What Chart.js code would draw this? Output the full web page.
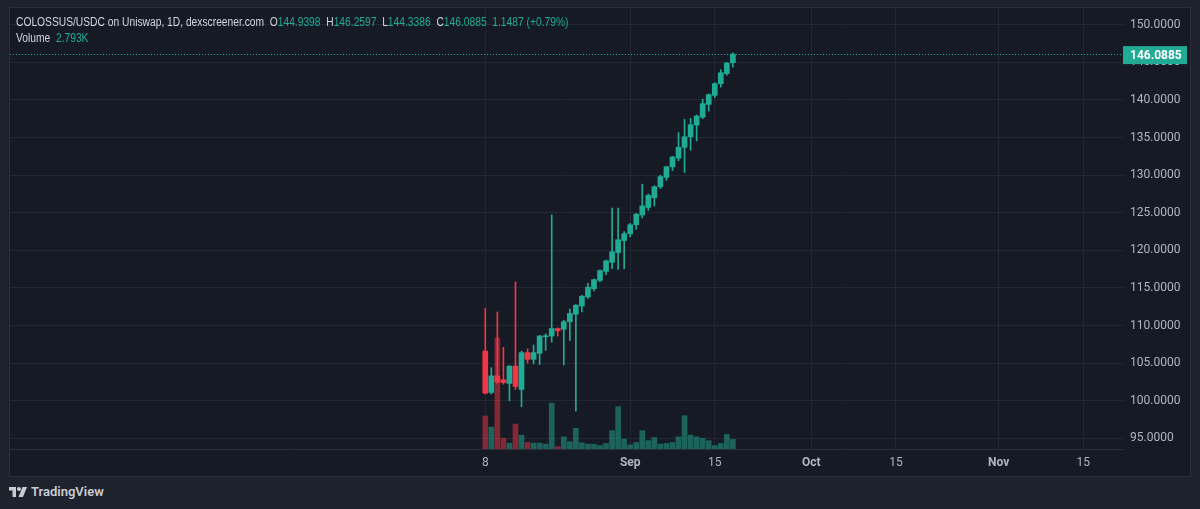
<!DOCTYPE html>
<html>
<head>
<meta charset="utf-8">
<script src="https://cdn.jsdelivr.net/npm/chart.js@4.4.0/dist/chart.umd.min.js"></script>
<style>
  html, body { margin: 0; padding: 0; width: 1200px; height: 509px; overflow: hidden; background: #1e222d; }
  #panel { position: absolute; left: 9px; top: 7px; width: 1180px; height: 468px; background: #161a25; border: 1px solid #2a2e39; }
  #legend { position: absolute; left: 16px; top: 14px; font: 12px "Liberation Sans", sans-serif; color: #d1d4dc; line-height: 16px; white-space: pre; transform: scaleX(0.855); transform-origin: 0 0; }
  .v { color: #22ab94; }
  #brand { position: absolute; left: 9px; top: 484px; display: flex; align-items: center; font: 600 13px Roboto, sans-serif; color: #c9ccd3; }
  #brand svg { margin-right: 4px; }
</style>
</head>
<body>
<div id="panel"><canvas id="myChart" width="1180" height="468"></canvas></div>
<div id="legend"></div>
<div id="brand">
  <svg width="18" height="12" viewBox="0 0 36 24"><path d="M0 2h14v20H7V9H0z" fill="#c9ccd3"/><circle cx="20" cy="6" r="4" fill="#c9ccd3"/><path d="M27 2h9l-8 20h-9z" fill="#c9ccd3"/></svg>
  <span>TradingView</span>
</div>
<script>
// daily candles, Aug 8 -> Sep 18
const dates = ["Aug 8", "Aug 9", "Aug 10", "Aug 11", "Aug 12", "Aug 13", "Aug 14", "Aug 15", "Aug 16", "Aug 17",
  "Aug 18", "Aug 19", "Aug 20", "Aug 21", "Aug 22", "Aug 23", "Aug 24", "Aug 25", "Aug 26", "Aug 27",
  "Aug 28", "Aug 29", "Aug 30", "Aug 31", "Sep 1", "Sep 2", "Sep 3", "Sep 4", "Sep 5", "Sep 6",
  "Sep 7", "Sep 8", "Sep 9", "Sep 10", "Sep 11", "Sep 12", "Sep 13", "Sep 14", "Sep 15", "Sep 16",
  "Sep 17", "Sep 18"];
const opens = [106.6, 101.1, 103.3, 102.8, 102.3, 104.6, 101.5, 106.4, 105.5, 106.3,
  108.5, 108.6, 109.6, 109.5, 110.5, 111.5, 112.6, 113.8, 114.9, 116.0,
  117.2, 118.4, 119.7, 121.3, 122.2, 123.4, 124.7, 125.7, 127.0, 128.45,
  129.7, 131.1, 132.25, 133.7, 135.1, 136.65, 137.7, 139.4, 140.6, 142.15,
  143.5, 144.9398];
const highs = [112.3, 104.4, 111.8, 107.1, 104.7, 115.8, 106.6, 106.9, 107.4, 108.7,
  108.9, 124.7, 109.7, 110.7, 112.2, 112.8, 114.0, 115.6, 116.2, 117.4,
  118.7, 125.6, 125.6, 122.5, 123.6, 124.9, 128.8, 127.5, 128.6, 130.0,
  131.2, 132.5, 135.65, 137.4, 137.55, 138.0, 140.1, 140.8, 142.3, 144.0,
  145.0, 146.2597];
const lows = [100.9, 100.9, 102.3, 102.2, 100.0, 101.5, 99.2, 105.0, 104.9, 104.8,
  106.7, 107.8, 108.6, 104.75, 108.0, 98.6, 111.8, 113.6, 114.6, 115.8,
  116.75, 117.55, 117.45, 117.55, 121.8, 122.8, 124.3, 125.3, 125.9, 128.2,
  129.3, 130.6, 131.9, 130.35, 133.3, 134.55, 137.5, 138.5, 140.3, 141.7,
  143.3, 144.3386];
const closes = [101.0, 103.3, 102.5, 102.4, 104.6, 101.9, 106.4, 105.5, 106.4, 108.6,
  108.6, 109.6, 109.3, 110.5, 111.6, 112.7, 113.9, 115.1, 116.1, 117.3,
  118.6, 119.8, 121.4, 122.2, 123.4, 124.8, 125.9, 127.3, 128.45, 129.8,
  131.1, 132.4, 133.7, 135.1, 136.7, 137.85, 139.5, 140.7, 142.15, 143.6,
  144.9, 146.0885];
// volume in thousands
const volumes = [9.5, 6.3, 32.0, 3.1, 1.7, 7.2, 4.0, 1.9, 1.7, 1.7,
  1.4, 13.2, 0.7, 3.5, 2.1, 6.0, 1.8, 1.4, 1.4, 1.0,
  1.6, 5.3, 12.2, 2.9, 1.2, 1.9, 5.3, 2.4, 3.3, 1.4,
  1.6, 1.9, 3.5, 9.6, 4.0, 3.5, 3.1, 2.4, 1.0, 1.6,
  4.2, 2.793];

// time axis: days counted from Aug 8
const tickDays = [0, 24, 38, 54, 68, 85, 99];
const tickLabels = ["8", "Sep", "15", "Oct", "15", "Nov", "15"];
const priceTicks = [95, 100, 105, 110, 115, 120, 125, 130, 135, 140, 145, 150];

const UP = "#22ab94";
const DOWN = "#f23645";
const isUp = (i) => closes[i] >= opens[i];

// top-left legend
const n = closes.length - 1;
const chg = closes[n] - opens[n];
document.getElementById("legend").innerHTML =
  "COLOSSUS/USDC on Uniswap, 1D, dexscreener.com  " +
  'O<span class="v">' + opens[n].toFixed(4) + "</span>  " +
  'H<span class="v">' + highs[n].toFixed(4) + "</span>  " +
  'L<span class="v">' + lows[n].toFixed(4) + "</span>  " +
  'C<span class="v">' + closes[n].toFixed(4) + "</span>  " +
  '<span class="v">' + chg.toFixed(4) + " (+" + (chg / opens[n] * 100).toFixed(2) + "%)</span>\n" +
  'Volume  <span class="v">' + volumes[n].toFixed(3) + "K</span>";

// last price dotted line + label on the price axis
const lastPrice = {
  id: "lastPrice",
  afterDraw(chart) {
    const { ctx, chartArea, scales } = chart;
    const y = scales.y.getPixelForValue(closes[n]);
    ctx.save();
    ctx.strokeStyle = UP;
    ctx.lineWidth = 1;
    ctx.setLineDash([1, 2]);
    ctx.beginPath();
    ctx.moveTo(chartArea.left, Math.round(y) + 0.5);
    ctx.lineTo(chartArea.right, Math.round(y) + 0.5);
    ctx.stroke();
    ctx.setLineDash([]);
    ctx.fillStyle = UP;
    ctx.fillRect(chartArea.right, y - 8, 64, 18);
    ctx.fillStyle = "#ffffff";
    ctx.font = "bold 12px Roboto";
    ctx.textBaseline = "middle";
    ctx.fillText(closes[n].toFixed(4), chartArea.right + 7, y + 2);
    ctx.restore();
  },
};

const ctx = document.getElementById("myChart").getContext("2d");
new Chart(ctx, {
  type: "bar",
  data: {
    datasets: [
      {
        // candle bodies
        data: dates.map((d, i) => ({ x: i, y: [opens[i], closes[i]] })),
        backgroundColor: dates.map((d, i) => (isUp(i) ? UP : DOWN)),
        barThickness: 5,
        minBarLength: 1,
        grouped: false,
        order: 1,
        yAxisID: "y",
      },
      {
        // wicks
        data: dates.map((d, i) => ({ x: i, y: [lows[i], highs[i]] })),
        backgroundColor: dates.map((d, i) => (isUp(i) ? UP : DOWN)),
        barThickness: 1,
        grouped: false,
        order: 2,
        yAxisID: "y",
      },
      {
        // volume
        data: dates.map((d, i) => ({ x: i, y: volumes[i] })),
        backgroundColor: dates.map((d, i) => (isUp(i) ? "rgba(34,171,148,0.5)" : "rgba(242,54,69,0.5)")),
        barThickness: 5,
        grouped: false,
        order: 3,
        yAxisID: "vol",
      },
    ],
  },
  options: {
    responsive: false,
    animation: false,
    layout: { padding: 0 },
    plugins: { legend: { display: false }, tooltip: { enabled: false } },
    scales: {
      x: {
        type: "linear",
        min: -78.7,
        max: 105.6,
        offset: false,
        afterBuildTicks: (s) => { s.ticks = tickDays.map((v) => ({ value: v })); },
        afterFit: (s) => { s.height = 27; s.paddingLeft = 0; s.paddingRight = 0; },
        grid: { color: "#232733", drawTicks: false, offset: false },
        border: { display: true, color: "#2a2e39" },
        ticks: {
          autoSkip: false,
          maxRotation: 0,
          padding: 7,
          color: "#b2b5be",
          font: (c) => ({ family: "Roboto", size: 12, weight: c.tick && /[A-Za-z]/.test(tickLabels[c.index]) ? "bold" : "normal" }),
          callback: (v, i) => tickLabels[i],
        },
      },
      y: {
        position: "right",
        min: 93.58,
        max: 152.22,
        afterBuildTicks: (s) => { s.ticks = priceTicks.map((v) => ({ value: v })); },
        afterFit: (s) => { s.width = 67; s.paddingTop = 0; s.paddingBottom = 0; },
        grid: { color: "#232733", drawTicks: false },
        border: { display: false },
        ticks: {
          padding: 7,
          color: "#b2b5be",
          font: { family: "Roboto", size: 12 },
          callback: (v) => Number(v).toFixed(4),
        },
      },
      vol: {
        display: false,
        min: 0,
        max: 127.1,
        afterFit: (s) => { s.paddingTop = 0; s.paddingBottom = 0; },
      },
    },
  },
  plugins: [lastPrice],
});
</script>
</body>
</html>
